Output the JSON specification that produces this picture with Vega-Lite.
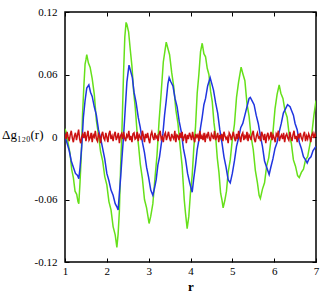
{
  "$schema": "https://vega.github.io/schema/vega-lite/v6.json",
  "width": 251,
  "height": 250,
  "autosize": {"type": "none"},
  "padding": {"left": 65, "top": 12, "right": 6, "bottom": 32},
  "datasets": {
    "green": [
      {"r":1.00,"v":0.008},{"r":1.04,"v":0.003},{"r":1.08,"v":-0.007},{"r":1.12,"v":-0.016},{"r":1.16,"v":-0.031},{"r":1.20,"v":-0.039},{"r":1.24,"v":-0.052},{"r":1.28,"v":-0.055},{"r":1.31,"v":-0.062},{"r":1.33,"v":-0.064},
      {"r":1.36,"v":-0.043},{"r":1.39,"v":-0.017},{"r":1.42,"v":0.022},{"r":1.45,"v":0.048},{"r":1.48,"v":0.070},{"r":1.50,"v":0.074},{"r":1.52,"v":0.079},{"r":1.56,"v":0.071},{"r":1.60,"v":0.067},{"r":1.65,"v":0.056},
      {"r":1.70,"v":0.041},{"r":1.75,"v":0.016},{"r":1.80,"v":0.002},{"r":1.85,"v":-0.014},{"r":1.90,"v":-0.023},{"r":1.95,"v":-0.038},{"r":2.00,"v":-0.046},{"r":2.05,"v":-0.062},{"r":2.10,"v":-0.070},{"r":2.15,"v":-0.086},
      {"r":2.20,"v":-0.094},{"r":2.24,"v":-0.106},{"r":2.27,"v":-0.093},{"r":2.30,"v":-0.071},{"r":2.33,"v":-0.028},{"r":2.36,"v":0.004},{"r":2.40,"v":0.062},{"r":2.43,"v":0.096},{"r":2.46,"v":0.110},{"r":2.48,"v":0.108},
      {"r":2.52,"v":0.101},{"r":2.56,"v":0.084},{"r":2.60,"v":0.068},{"r":2.64,"v":0.044},{"r":2.68,"v":0.028},{"r":2.72,"v":0.006},{"r":2.76,"v":-0.009},{"r":2.80,"v":-0.026},{"r":2.85,"v":-0.040},{"r":2.90,"v":-0.060},
      {"r":2.95,"v":-0.068},{"r":3.01,"v":-0.083},{"r":3.05,"v":-0.076},{"r":3.10,"v":-0.064},{"r":3.15,"v":-0.040},{"r":3.20,"v":-0.017},{"r":3.25,"v":0.016},{"r":3.30,"v":0.043},{"r":3.35,"v":0.072},{"r":3.39,"v":0.083},
      {"r":3.42,"v":0.091},{"r":3.46,"v":0.085},{"r":3.50,"v":0.079},{"r":3.55,"v":0.062},{"r":3.60,"v":0.048},{"r":3.65,"v":0.026},{"r":3.70,"v":0.013},{"r":3.75,"v":-0.008},{"r":3.80,"v":-0.028},{"r":3.85,"v":-0.060},
      {"r":3.88,"v":-0.073},{"r":3.92,"v":-0.088},{"r":3.96,"v":-0.076},{"r":4.00,"v":-0.053},{"r":4.04,"v":-0.037},{"r":4.08,"v":-0.010},{"r":4.12,"v":0.010},{"r":4.16,"v":0.042},{"r":4.20,"v":0.060},{"r":4.24,"v":0.082},
      {"r":4.28,"v":0.090},{"r":4.32,"v":0.080},{"r":4.36,"v":0.077},{"r":4.40,"v":0.066},{"r":4.44,"v":0.060},{"r":4.48,"v":0.044},{"r":4.52,"v":0.034},{"r":4.56,"v":0.014},{"r":4.60,"v":0.001},{"r":4.64,"v":-0.020},
      {"r":4.68,"v":-0.034},{"r":4.72,"v":-0.054},{"r":4.75,"v":-0.060},{"r":4.78,"v":-0.068},{"r":4.82,"v":-0.061},{"r":4.86,"v":-0.052},{"r":4.90,"v":-0.034},{"r":4.95,"v":-0.022},{"r":5.00,"v":-0.002},{"r":5.05,"v":0.012},
      {"r":5.10,"v":0.038},{"r":5.15,"v":0.053},{"r":5.21,"v":0.067},{"r":5.25,"v":0.061},{"r":5.30,"v":0.054},{"r":5.35,"v":0.032},{"r":5.40,"v":0.020},{"r":5.45,"v":0.000},{"r":5.50,"v":-0.012},{"r":5.55,"v":-0.032},
      {"r":5.60,"v":-0.044},{"r":5.64,"v":-0.056},{"r":5.67,"v":-0.059},{"r":5.72,"v":-0.050},{"r":5.77,"v":-0.044},{"r":5.82,"v":-0.028},{"r":5.87,"v":-0.020},{"r":5.92,"v":-0.004},{"r":5.97,"v":0.004},{"r":6.02,"v":0.027},
      {"r":6.07,"v":0.041},{"r":6.12,"v":0.050},{"r":6.16,"v":0.042},{"r":6.21,"v":0.037},{"r":6.26,"v":0.025},{"r":6.31,"v":0.019},{"r":6.36,"v":0.002},{"r":6.41,"v":-0.006},{"r":6.46,"v":-0.022},{"r":6.51,"v":-0.028},
      {"r":6.56,"v":-0.037},{"r":6.60,"v":-0.039},{"r":6.65,"v":-0.034},{"r":6.70,"v":-0.031},{"r":6.75,"v":-0.022},{"r":6.80,"v":-0.019},{"r":6.85,"v":-0.008},{"r":6.90,"v":0.003},{"r":6.95,"v":0.021},{"r":7.00,"v":0.035}
    ],
    "blue": [
      {"r":1.00,"v":0.001},{"r":1.05,"v":-0.006},{"r":1.10,"v":-0.013},{"r":1.15,"v":-0.023},{"r":1.20,"v":-0.029},{"r":1.25,"v":-0.035},{"r":1.30,"v":-0.037},{"r":1.33,"v":-0.040},{"r":1.36,"v":-0.029},{"r":1.40,"v":-0.009},
      {"r":1.44,"v":0.019},{"r":1.48,"v":0.035},{"r":1.52,"v":0.047},{"r":1.57,"v":0.050},{"r":1.61,"v":0.043},{"r":1.65,"v":0.039},{"r":1.70,"v":0.029},{"r":1.75,"v":0.021},{"r":1.80,"v":0.007},{"r":1.85,"v":-0.001},
      {"r":1.90,"v":-0.011},{"r":1.95,"v":-0.021},{"r":2.00,"v":-0.035},{"r":2.05,"v":-0.042},{"r":2.10,"v":-0.051},{"r":2.15,"v":-0.056},{"r":2.20,"v":-0.064},{"r":2.24,"v":-0.067},{"r":2.27,"v":-0.070},{"r":2.30,"v":-0.054},
      {"r":2.33,"v":-0.039},{"r":2.36,"v":-0.021},{"r":2.40,"v":0.001},{"r":2.44,"v":0.027},{"r":2.48,"v":0.053},{"r":2.53,"v":0.069},{"r":2.57,"v":0.063},{"r":2.61,"v":0.057},{"r":2.65,"v":0.043},{"r":2.70,"v":0.033},
      {"r":2.75,"v":0.019},{"r":2.80,"v":0.009},{"r":2.85,"v":-0.005},{"r":2.90,"v":-0.015},{"r":2.95,"v":-0.029},{"r":3.00,"v":-0.039},{"r":3.05,"v":-0.051},{"r":3.10,"v":-0.056},{"r":3.14,"v":-0.049},{"r":3.18,"v":-0.041},
      {"r":3.22,"v":-0.027},{"r":3.26,"v":-0.019},{"r":3.30,"v":-0.007},{"r":3.34,"v":0.003},{"r":3.38,"v":0.021},{"r":3.42,"v":0.035},{"r":3.46,"v":0.051},{"r":3.49,"v":0.057},{"r":3.53,"v":0.053},{"r":3.58,"v":0.049},
      {"r":3.63,"v":0.037},{"r":3.68,"v":0.029},{"r":3.73,"v":0.015},{"r":3.78,"v":0.005},{"r":3.83,"v":-0.011},{"r":3.88,"v":-0.021},{"r":3.93,"v":-0.035},{"r":3.98,"v":-0.044},{"r":4.04,"v":-0.053},{"r":4.08,"v":-0.039},
      {"r":4.12,"v":-0.027},{"r":4.16,"v":-0.012},{"r":4.20,"v":-0.003},{"r":4.24,"v":0.009},{"r":4.28,"v":0.019},{"r":4.32,"v":0.031},{"r":4.36,"v":0.037},{"r":4.41,"v":0.049},{"r":4.47,"v":0.057},{"r":4.51,"v":0.051},
      {"r":4.55,"v":0.045},{"r":4.60,"v":0.033},{"r":4.65,"v":0.023},{"r":4.70,"v":0.007},{"r":4.75,"v":-0.005},{"r":4.80,"v":-0.019},{"r":4.85,"v":-0.029},{"r":4.90,"v":-0.041},{"r":4.95,"v":-0.044},{"r":5.00,"v":-0.035},
      {"r":5.05,"v":-0.023},{"r":5.10,"v":-0.009},{"r":5.15,"v":-0.001},{"r":5.20,"v":0.009},{"r":5.25,"v":0.013},{"r":5.30,"v":0.021},{"r":5.35,"v":0.029},{"r":5.40,"v":0.037},{"r":5.43,"v":0.038},{"r":5.47,"v":0.035},
      {"r":5.52,"v":0.031},{"r":5.57,"v":0.021},{"r":5.62,"v":0.013},{"r":5.67,"v":0.001},{"r":5.72,"v":-0.009},{"r":5.77,"v":-0.023},{"r":5.82,"v":-0.029},{"r":5.88,"v":-0.036},{"r":5.92,"v":-0.029},{"r":5.97,"v":-0.021},
      {"r":6.02,"v":-0.011},{"r":6.07,"v":-0.005},{"r":6.12,"v":0.005},{"r":6.17,"v":0.013},{"r":6.22,"v":0.023},{"r":6.27,"v":0.027},{"r":6.32,"v":0.031},{"r":6.38,"v":0.029},{"r":6.42,"v":0.025},{"r":6.46,"v":0.021},
      {"r":6.50,"v":0.013},{"r":6.55,"v":0.007},{"r":6.60,"v":-0.005},{"r":6.65,"v":-0.011},{"r":6.70,"v":-0.019},{"r":6.75,"v":-0.022},{"r":6.79,"v":-0.025},{"r":6.83,"v":-0.021},{"r":6.88,"v":-0.019},{"r":6.93,"v":-0.013},
      {"r":7.00,"v":-0.009}
    ],
    "red": [
      {"r":1.000,"v":0.003},{"r":1.025,"v":-0.002},{"r":1.050,"v":0.005},{"r":1.075,"v":0.000},{"r":1.100,"v":-0.004},{"r":1.125,"v":0.002},{"r":1.150,"v":0.006},{"r":1.175,"v":-0.001},{"r":1.200,"v":-0.005},{"r":1.225,"v":0.001},
      {"r":1.250,"v":0.004},{"r":1.275,"v":-0.003},{"r":1.300,"v":0.002},{"r":1.325,"v":0.007},{"r":1.350,"v":-0.002},{"r":1.375,"v":-0.006},{"r":1.400,"v":0.000},{"r":1.425,"v":0.003},{"r":1.450,"v":-0.001},{"r":1.475,"v":0.005},
      {"r":1.500,"v":-0.004},{"r":1.525,"v":0.001},{"r":1.550,"v":0.006},{"r":1.575,"v":-0.003},{"r":1.600,"v":-0.001},{"r":1.625,"v":0.004},{"r":1.650,"v":-0.005},{"r":1.675,"v":0.002},{"r":1.700,"v":0.000},{"r":1.725,"v":0.006},
      {"r":1.750,"v":-0.002},{"r":1.775,"v":-0.004},{"r":1.800,"v":0.003},{"r":1.825,"v":0.001},{"r":1.850,"v":-0.006},{"r":1.875,"v":0.002},{"r":1.900,"v":0.005},{"r":1.925,"v":-0.001},{"r":1.950,"v":-0.003},{"r":1.975,"v":0.004},
      {"r":2.000,"v":0.000},{"r":2.025,"v":-0.005},{"r":2.050,"v":0.003},{"r":2.075,"v":0.006},{"r":2.100,"v":-0.002},{"r":2.125,"v":0.001},{"r":2.150,"v":-0.004},{"r":2.175,"v":0.002},{"r":2.200,"v":0.005},{"r":2.225,"v":-0.003},
      {"r":2.250,"v":0.000},{"r":2.275,"v":0.004},{"r":2.300,"v":-0.006},{"r":2.325,"v":0.001},{"r":2.350,"v":0.003},{"r":2.375,"v":-0.002},{"r":2.400,"v":0.005},{"r":2.425,"v":-0.001},{"r":2.450,"v":-0.004},{"r":2.475,"v":0.002},
      {"r":2.500,"v":0.000},{"r":2.525,"v":0.006},{"r":2.550,"v":-0.003},{"r":2.575,"v":0.001},{"r":2.600,"v":-0.005},{"r":2.625,"v":0.003},{"r":2.650,"v":0.004},{"r":2.675,"v":-0.002},{"r":2.700,"v":-0.001},{"r":2.725,"v":0.005},
      {"r":2.750,"v":-0.004},{"r":2.775,"v":0.002},{"r":2.800,"v":0.000},{"r":2.825,"v":-0.003},{"r":2.850,"v":0.006},{"r":2.875,"v":0.001},{"r":2.900,"v":-0.005},{"r":2.925,"v":0.003},{"r":2.950,"v":-0.001},{"r":2.975,"v":0.004},
      {"r":3.000,"v":-0.002},{"r":3.025,"v":-0.006},{"r":3.050,"v":0.002},{"r":3.075,"v":0.005},{"r":3.100,"v":0.000},{"r":3.125,"v":-0.003},{"r":3.150,"v":0.004},{"r":3.175,"v":-0.001},{"r":3.200,"v":0.001},{"r":3.225,"v":-0.004},
      {"r":3.250,"v":0.003},{"r":3.275,"v":0.006},{"r":3.300,"v":-0.002},{"r":3.325,"v":0.000},{"r":3.350,"v":-0.005},{"r":3.375,"v":0.002},{"r":3.400,"v":0.004},{"r":3.425,"v":-0.003},{"r":3.450,"v":0.001},{"r":3.475,"v":0.005},
      {"r":3.500,"v":-0.001},{"r":3.525,"v":-0.004},{"r":3.550,"v":0.003},{"r":3.575,"v":0.000},{"r":3.600,"v":-0.002},{"r":3.625,"v":0.006},{"r":3.650,"v":-0.005},{"r":3.675,"v":0.002},{"r":3.700,"v":0.001},{"r":3.725,"v":-0.003},
      {"r":3.750,"v":0.004},{"r":3.775,"v":-0.001},{"r":3.800,"v":0.005},{"r":3.825,"v":-0.004},{"r":3.850,"v":0.000},{"r":3.875,"v":0.003},{"r":3.900,"v":-0.006},{"r":3.925,"v":0.002},{"r":3.950,"v":-0.002},{"r":3.975,"v":0.004},
      {"r":4.000,"v":0.001},{"r":4.025,"v":-0.003},{"r":4.050,"v":0.005},{"r":4.075,"v":-0.001},{"r":4.100,"v":-0.005},{"r":4.125,"v":0.003},{"r":4.150,"v":0.000},{"r":4.175,"v":0.002},{"r":4.200,"v":-0.004},{"r":4.225,"v":0.006},
      {"r":4.250,"v":-0.002},{"r":4.275,"v":0.001},{"r":4.300,"v":-0.003},{"r":4.325,"v":0.004},{"r":4.350,"v":-0.005},{"r":4.375,"v":0.002},{"r":4.400,"v":0.000},{"r":4.425,"v":0.005},{"r":4.450,"v":-0.001},{"r":4.475,"v":-0.004},
      {"r":4.500,"v":0.003},{"r":4.525,"v":0.001},{"r":4.550,"v":-0.002},{"r":4.575,"v":0.006},{"r":4.600,"v":-0.003},{"r":4.625,"v":0.000},{"r":4.650,"v":0.004},{"r":4.675,"v":-0.005},{"r":4.700,"v":0.002},{"r":4.725,"v":-0.001},
      {"r":4.750,"v":0.003},{"r":4.775,"v":-0.004},{"r":4.800,"v":0.005},{"r":4.825,"v":0.001},{"r":4.850,"v":-0.002},{"r":4.875,"v":0.000},{"r":4.900,"v":-0.006},{"r":4.925,"v":0.004},{"r":4.950,"v":0.002},{"r":4.975,"v":-0.003},
      {"r":5.000,"v":0.001},{"r":5.025,"v":0.005},{"r":5.050,"v":-0.001},{"r":5.075,"v":-0.004},{"r":5.100,"v":0.003},{"r":5.125,"v":-0.002},{"r":5.150,"v":0.006},{"r":5.175,"v":0.000},{"r":5.200,"v":-0.005},{"r":5.225,"v":0.002},
      {"r":5.250,"v":0.004},{"r":5.275,"v":-0.003},{"r":5.300,"v":0.001},{"r":5.325,"v":-0.001},{"r":5.350,"v":0.005},{"r":5.375,"v":-0.004},{"r":5.400,"v":0.002},{"r":5.425,"v":0.000},{"r":5.450,"v":-0.003},{"r":5.475,"v":0.003},
      {"r":5.500,"v":0.006},{"r":5.525,"v":-0.002},{"r":5.550,"v":-0.005},{"r":5.575,"v":0.001},{"r":5.600,"v":0.004},{"r":5.625,"v":-0.001},{"r":5.650,"v":0.000},{"r":5.675,"v":-0.004},{"r":5.700,"v":0.005},{"r":5.725,"v":0.002},
      {"r":5.750,"v":-0.003},{"r":5.775,"v":0.003},{"r":5.800,"v":-0.006},{"r":5.825,"v":0.001},{"r":5.850,"v":0.004},{"r":5.875,"v":-0.002},{"r":5.900,"v":0.000},{"r":5.925,"v":0.005},{"r":5.950,"v":-0.003},{"r":5.975,"v":0.002},
      {"r":6.000,"v":-0.001},{"r":6.025,"v":-0.005},{"r":6.050,"v":0.003},{"r":6.075,"v":0.001},{"r":6.100,"v":0.006},{"r":6.125,"v":-0.004},{"r":6.150,"v":0.000},{"r":6.175,"v":0.002},{"r":6.200,"v":-0.002},{"r":6.225,"v":0.004},
      {"r":6.250,"v":-0.005},{"r":6.275,"v":0.001},{"r":6.300,"v":0.003},{"r":6.325,"v":-0.001},{"r":6.350,"v":-0.003},{"r":6.375,"v":0.005},{"r":6.400,"v":0.000},{"r":6.425,"v":-0.004},{"r":6.450,"v":0.002},{"r":6.475,"v":0.006},
      {"r":6.500,"v":-0.002},{"r":6.525,"v":0.001},{"r":6.550,"v":-0.005},{"r":6.575,"v":0.003},{"r":6.600,"v":0.000},{"r":6.625,"v":0.004},{"r":6.650,"v":-0.001},{"r":6.675,"v":-0.003},{"r":6.700,"v":0.002},{"r":6.725,"v":0.005},
      {"r":6.750,"v":-0.004},{"r":6.775,"v":0.001},{"r":6.800,"v":-0.002},{"r":6.825,"v":0.003},{"r":6.850,"v":0.000},{"r":6.875,"v":-0.005},{"r":6.900,"v":0.002},{"r":6.925,"v":0.004},{"r":6.950,"v":-0.001},{"r":6.975,"v":0.003},
      {"r":7.000,"v":0.000}
    ]
  },
  "layer": [
    {
      "data": {"name": "green"},
      "mark": {"type": "line", "color": "#66e01a", "strokeWidth": 1.5, "clip": true},
      "encoding": {
        "x": {"field": "r", "type": "quantitative", "scale": {"domain": [1, 7], "nice": false, "zero": false},
          "axis": {"orient": "bottom", "values": [1,2,3,4,5,6,7], "title": "r", "titleFontWeight": "bold", "titleFontSize": 13, "titleBaseline": "alphabetic", "titleY": 28, "labelPadding": 7}},
        "y": {"field": "v", "type": "quantitative", "scale": {"domain": [-0.12, 0.12], "nice": false, "zero": false},
          "axis": {"orient": "left", "values": [-0.12,-0.06,0,0.06,0.12], "labelPadding": 12,
            "labelExpr": "datum.value < 0 ? '-' + format(-datum.value, '.2f') : (datum.value == 0 ? '0' : format(datum.value, '.2f'))",
            "title": "Δg₁₂₀(r)", "titleAngle": 0, "titleAlign": "right", "titleBaseline": "alphabetic", "titleX": -22, "titleY": 126, "titleFontWeight": "normal", "titleFontSize": 13}}
      }
    },
    {
      "data": {"name": "blue"},
      "mark": {"type": "line", "color": "#2035e0", "strokeWidth": 1.5, "clip": true},
      "encoding": {
        "x": {"field": "r", "type": "quantitative", "axis": {"orient": "top", "values": [1,2,3,4,5,6,7], "labels": false, "title": null}},
        "y": {"field": "v", "type": "quantitative", "axis": {"orient": "right", "values": [-0.12,-0.06,0,0.06,0.12], "labels": false, "title": null}}
      }
    },
    {
      "data": {"name": "red"},
      "mark": {"type": "line", "color": "#cc1010", "strokeWidth": 1.5, "clip": true},
      "encoding": {
        "x": {"field": "r", "type": "quantitative", "axis": null},
        "y": {"field": "v", "type": "quantitative", "axis": null}
      }
    }
  ],
  "resolve": {"axis": {"x": "independent", "y": "independent"}},
  "config": {
    "font": "Liberation Serif",
    "background": "white",
    "view": {"stroke": "black", "strokeWidth": 1.5},
    "axis": {
      "domain": false,
      "grid": false,
      "ticks": true,
      "tickSize": -4,
      "tickColor": "black",
      "tickWidth": 1,
      "labelFont": "Liberation Serif",
      "labelFontSize": 11,
      "labelColor": "black",
      "titleFont": "Liberation Serif",
      "titleColor": "black",
      "labelFlush": false,
      "labelOverlap": false
    }
  }
}
